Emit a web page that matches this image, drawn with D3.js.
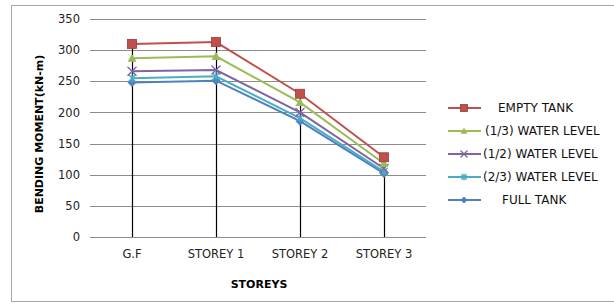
<!DOCTYPE html>
<html>
<head>
<meta charset="utf-8">
<script src="https://cdn.jsdelivr.net/npm/d3@7"></script>
<style>
  body { margin: 0; background: #fff; }
  svg { font-family: "DejaVu Sans", Arial, sans-serif; }
</style>
</head>
<body>
<svg id="chart" width="614" height="304"></svg>
<script>
// chart data
var storeys = ["G.F", "STOREY 1", "STOREY 2", "STOREY 3"];
var emptyTank = [310, 313, 230, 128];
var oneThird = [287, 290, 216, 118];
var oneHalf = [266, 268, 200, 110];
var twoThird = [255, 258, 191, 105];
var fullTank = [248, 251, 186, 102];
var yTicks = [0, 50, 100, 150, 200, 250, 300, 350];

var series = [
    { name: "EMPTY TANK", values: emptyTank, color: "#C0504D", marker: "square" },
    { name: "(1/3) WATER LEVEL", values: oneThird, color: "#9BBB59", marker: "triangle" },
    { name: "(1/2) WATER LEVEL", values: oneHalf, color: "#8064A2", marker: "x" },
    { name: "(2/3) WATER LEVEL", values: twoThird, color: "#4BACC6", marker: "star" },
    { name: "FULL TANK", values: fullTank, color: "#4F81BD", marker: "diamond" }
];

var svg = d3.select("#chart");
// note: can't call it "top", window.top is taken
var plotLeft = 90, plotRight = 426, plotTop = 19, plotBottom = 237;
var font = "DejaVu Sans, Arial, sans-serif";

// outer chart border
svg.append("rect")
    .attr("x", 11.5).attr("y", 5.5)
    .attr("width", 610).attr("height", 296)
    .attr("fill", "none").attr("stroke", "#a6a6a6");

var x = d3.scaleBand().domain(storeys).range([plotLeft, plotRight]);
var y = d3.scaleLinear().domain([0, 350]).range([plotBottom, plotTop]);
var cx = function (d) { return x(d) + x.bandwidth() / 2; };

// gridlines
svg.append("g").selectAll("line").data(yTicks).enter().append("line")
    .attr("x1", plotLeft).attr("x2", plotRight)
    .attr("y1", function (d) { return Math.round(y(d)) + 0.5; })
    .attr("y2", function (d) { return Math.round(y(d)) + 0.5; })
    .attr("stroke", "#8c8c8c").attr("stroke-width", 1);

// y axis labels
var yAxis = d3.axisLeft(y).tickValues(yTicks).tickSize(0).tickPadding(10);
var ya = svg.append("g").attr("transform", "translate(" + plotLeft + ",0)").call(yAxis);
ya.select(".domain").remove();
ya.selectAll("text").attr("font-size", 11.5).attr("fill", "#222")
    .style("font-family", font);

// x axis labels
var xAxis = d3.axisBottom(x).tickSize(0).tickPadding(13);
var xa = svg.append("g").attr("transform", "translate(0," + plotBottom + ")").call(xAxis);
xa.select(".domain").remove();
xa.selectAll("text").attr("font-size", 11.5).attr("fill", "#222")
    .style("font-family", font);

// drop lines from the highest point down to the axis
svg.append("g").selectAll("line").data(storeys).enter().append("line")
    .attr("x1", function (d) { return Math.round(cx(d)) + 0.5; })
    .attr("x2", function (d) { return Math.round(cx(d)) + 0.5; })
    .attr("y1", function (d, i) { return y(emptyTank[i]); })
    .attr("y2", plotBottom)
    .attr("stroke", "#000").attr("stroke-width", 1.2);

function drawMarker(g, kind, color, r) {
    if (kind == "square") {
        g.append("rect").attr("x", -r).attr("y", -r).attr("width", 2 * r).attr("height", 2 * r)
            .attr("fill", color).attr("stroke", "#9b3b39").attr("stroke-width", 0.8);
    } else if (kind == "triangle") {
        g.append("path").attr("d", "M0," + (-r) + "L" + r + "," + (r * 0.8) + "L" + (-r) + "," + (r * 0.8) + "Z").attr("fill", color);
    } else if (kind == "x") {
        g.append("path").attr("d", "M" + (-r) + "," + (-r) + "L" + r + "," + r + "M" + (-r) + "," + r + "L" + r + "," + (-r))
            .attr("stroke", color).attr("stroke-width", 1.3);
    } else if (kind == "star") {
        var k = r * 0.8;
        g.append("path").attr("d", "M" + (-k) + "," + (-k) + "L" + k + "," + k + "M" + (-k) + "," + k + "L" + k + "," + (-k) + "M0," + (-r) + "L0," + r)
            .attr("stroke", color).attr("stroke-width", 1.3);
    } else {
        g.append("path").attr("d", "M0," + (-r) + "L" + r + ",0L0," + r + "L" + (-r) + ",0Z").attr("fill", color);
    }
}

var line = d3.line()
    .x(function (d, i) { return cx(storeys[i]); })
    .y(function (d) { return y(d); });

// draw back to front so the red line ends up on top
series.slice().reverse().forEach(function (s) {
    svg.append("path").datum(s.values)
        .attr("d", line)
        .attr("fill", "none").attr("stroke", s.color).attr("stroke-width", 2);
    s.values.forEach(function (v, i) {
        var g = svg.append("g").attr("transform", "translate(" + cx(storeys[i]) + "," + y(v) + ")");
        drawMarker(g, s.marker, s.color, 4.5);
    });
});

// axis titles
svg.append("text")
    .attr("transform", "translate(43,134) rotate(-90)")
    .attr("text-anchor", "middle").attr("font-size", 11).attr("font-weight", "bold")
    .text("BENDING MOMENT(kN-m)");
svg.append("text")
    .attr("x", (plotLeft + plotRight) / 2 + 1).attr("y", 288)
    .attr("text-anchor", "middle").attr("font-size", 11).attr("font-weight", "bold")
    .text("STOREYS");

// legend
var legendY = [108, 131, 154, 177, 200];
var legendTextX = [498, 485, 483, 483, 502];
series.forEach(function (s, i) {
    var ly = legendY[i];
    svg.append("line")
        .attr("x1", 448).attr("x2", 481).attr("y1", ly).attr("y2", ly)
        .attr("stroke", s.color).attr("stroke-width", 2);
    var g = svg.append("g").attr("transform", "translate(464," + ly + ")");
    drawMarker(g, s.marker, s.color, 3.5);
    svg.append("text")
        .attr("x", legendTextX[i]).attr("y", ly + 4)
        .attr("font-size", 12).attr("fill", "#111")
        .text(s.name);
});
</script>
</body>
</html>
